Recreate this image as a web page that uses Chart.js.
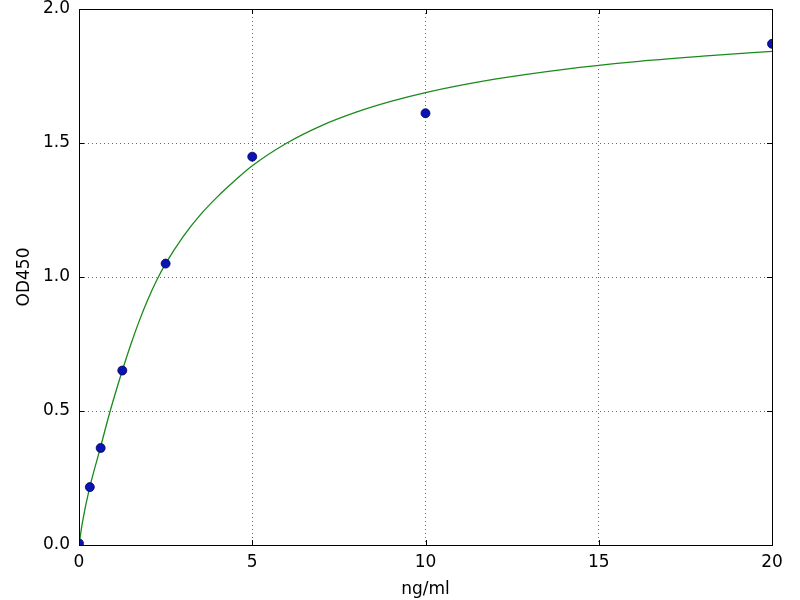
<!DOCTYPE html>
<html>
<head>
<meta charset="utf-8">
<script src="https://cdn.jsdelivr.net/npm/chart.js@4.4.1/dist/chart.umd.min.js"></script>
<style>
  html, body { margin: 0; padding: 0; background: #fff; }
  #wrap { width: 800px; height: 600px; }
</style>
</head>
<body>
<div id="wrap"><canvas id="odChart" width="800" height="600"></canvas></div>
<script>
// standard points
const concX = [0, 0.3125, 0.625, 1.25, 2.5, 5, 10, 20];
const odY = [0.006, 0.216, 0.362, 0.651, 1.05, 1.449, 1.611, 1.87];

// fitted curve
const fitX = [0, 0.1, 0.3, 0.6, 0.9, 1.25, 1.5, 1.75, 2, 2.25, 2.5, 3, 3.5, 4, 4.5, 5, 6, 7, 8, 9, 10, 12, 14, 16, 18, 20];
const fitY = [0, 0.085, 0.21, 0.355, 0.5, 0.651, 0.75, 0.84, 0.92, 0.99, 1.05, 1.15, 1.232, 1.3, 1.36, 1.415, 1.5, 1.565, 1.615, 1.655, 1.688, 1.738, 1.775, 1.803, 1.824, 1.842];

const xTicks = [0, 5, 10, 15, 20];
const yTicks = [0, 0.5, 1.0, 1.5, 2.0];

const FONT = 'DejaVu Sans';

// frame + inward tick marks like matplotlib classic
const frameTicks = {
    id: 'frameTicks',
    afterDraw(chart) {
        const { ctx, chartArea: a, scales } = chart;
        ctx.save();
        ctx.strokeStyle = '#000';
        ctx.lineWidth = 1;
        const len = 5;
        ctx.beginPath();
        xTicks.forEach(v => {
            const px = Math.round(scales.x.getPixelForValue(v)) + 0.5;
            ctx.moveTo(px, a.bottom); ctx.lineTo(px, a.bottom - len);
            ctx.moveTo(px, a.top); ctx.lineTo(px, a.top + len);
        });
        yTicks.forEach(v => {
            const py = Math.round(scales.y.getPixelForValue(v)) + 0.5;
            ctx.moveTo(a.left, py); ctx.lineTo(a.left + len, py);
            ctx.moveTo(a.right, py); ctx.lineTo(a.right - len, py);
        });
        ctx.stroke();
        ctx.strokeRect(Math.round(a.left) + 0.5, Math.round(a.top) + 0.5,
            Math.round(a.right - a.left), Math.round(a.bottom - a.top));
        ctx.restore();
    }
};

const data = {
    datasets: [
        {
            label: 'standards',
            data: concX.map((x, i) => ({ x: x, y: odY[i] })),
            backgroundColor: '#0a14b4',
            borderColor: '#00005a',
            borderWidth: 0.8,
            pointRadius: 4.5,
            showLine: false,
            clip: 0,
            order: 0
        },
        {
            label: 'fit',
            data: fitX.map((x, i) => ({ x: x, y: fitY[i] })),
            borderColor: '#1a8a1a',
            borderWidth: 1.3,
            pointRadius: 0,
            showLine: true,
            fill: false,
            cubicInterpolationMode: 'monotone',
            order: 1
        }
    ]
};

const config = {
    type: 'scatter',
    data: data,
    options: {
        responsive: false,
        animation: false,
        devicePixelRatio: 1,
        layout: { padding: { top: 9, right: 28, left: 0, bottom: 0 } },
        plugins: {
            legend: { display: false },
            tooltip: { enabled: false }
        },
        scales: {
            x: {
                type: 'linear',
                min: 0,
                max: 20,
                afterFit: s => { s.height = 55; },
                afterBuildTicks: s => { s.ticks = xTicks.map(v => ({ value: v })); },
                ticks: {
                    color: '#000',
                    padding: 7,
                    font: { family: FONT, size: 17 },
                    maxRotation: 0,
                    callback: v => String(v)
                },
                grid: { color: '#000', lineWidth: 0.6, drawTicks: false },
                border: { color: '#000', width: 1, dash: [1, 3] },
                title: {
                    display: true,
                    text: 'ng/ml',
                    color: '#000',
                    font: { family: FONT, size: 17 },
                    padding: { top: 0, bottom: 0 }
                }
            },
            y: {
                type: 'linear',
                min: 0,
                max: 2,
                afterFit: s => { s.width = 79; s.paddingTop = 0; s.paddingBottom = 0; },
                afterBuildTicks: s => { s.ticks = yTicks.map(v => ({ value: v })); },
                ticks: {
                    color: '#000',
                    padding: 9,
                    font: { family: FONT, size: 17 },
                    callback: v => Number(v).toFixed(1)
                },
                grid: { color: '#000', lineWidth: 0.6, drawTicks: false },
                border: { color: '#000', width: 1, dash: [1, 3] },
                title: {
                    display: true,
                    text: 'OD450',
                    color: '#000',
                    font: { family: FONT, size: 17 },
                    padding: { top: 14, bottom: 0 }
                }
            }
        }
    },
    plugins: [frameTicks]
};

const chart = new Chart(document.getElementById('odChart'), config);
</script>
</body>
</html>
